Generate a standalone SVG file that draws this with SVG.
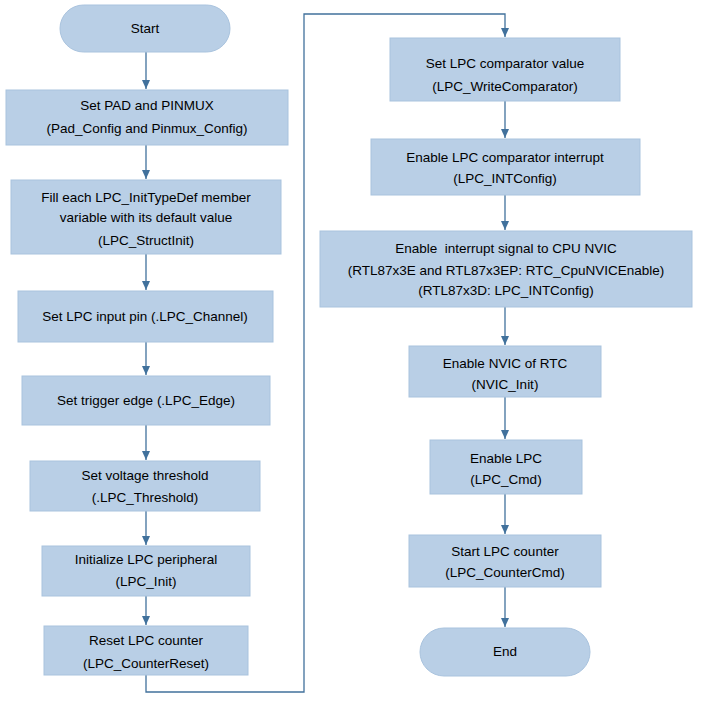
<svg xmlns="http://www.w3.org/2000/svg" width="705" height="709" viewBox="0 0 705 709">
<style>
.b{fill:#b9cfe6;stroke:#a9c3de;stroke-width:1}
text{font-family:"Liberation Sans",Arial,sans-serif;font-size:13.5px;fill:#000;text-anchor:middle}
.c{fill:none;stroke:#41719c;stroke-width:1.3}
</style>
<defs><marker id="a" markerWidth="10" markerHeight="10" refX="9" refY="5" orient="auto" markerUnits="userSpaceOnUse"><path d="M0,1 L9,5 L0,9 Z" fill="#41719c"/></marker></defs>
<rect width="705" height="709" fill="#fff"/>
<g id="connectors">
<path class="c" d="M146,52 V89" marker-end="url(#a)"/>
<path class="c" d="M146,145 V179" marker-end="url(#a)"/>
<path class="c" d="M146,254 V290" marker-end="url(#a)"/>
<path class="c" d="M146,342 V375" marker-end="url(#a)"/>
<path class="c" d="M146,425 V460" marker-end="url(#a)"/>
<path class="c" d="M146,511 V545" marker-end="url(#a)"/>
<path class="c" d="M146,596 V625" marker-end="url(#a)"/>
<path class="c" d="M146,675 V692 H304 V14 H505 V37" marker-end="url(#a)"/>
<path class="c" d="M505,101 V138" marker-end="url(#a)"/>
<path class="c" d="M505,195 V230" marker-end="url(#a)"/>
<path class="c" d="M505,307 V345" marker-end="url(#a)"/>
<path class="c" d="M505,397 V439" marker-end="url(#a)"/>
<path class="c" d="M505,494 V534" marker-end="url(#a)"/>
<path class="c" d="M505,587 V627" marker-end="url(#a)"/>
</g>
<g id="start"><rect class="b" x="60" y="5" width="170" height="47" rx="23.5"/><text x="145" y="33">Start</text></g>
<g id="n1"><rect class="b" x="6" y="90" width="282" height="55"/><text x="147" y="110">Set PAD and PINMUX</text><text x="147" y="133">(Pad_Config and Pinmux_Config)</text></g>
<g id="n2"><rect class="b" x="11" y="180" width="270" height="74"/><text x="146" y="202">Fill each LPC_InitTypeDef member</text><text x="146" y="222">variable with its default value</text><text x="146" y="245">(LPC_StructInit)</text></g>
<g id="n3"><rect class="b" x="18" y="291" width="255" height="51"/><text x="145" y="321">Set LPC input pin (.LPC_Channel)</text></g>
<g id="n4"><rect class="b" x="22" y="376" width="248" height="49"/><text x="146" y="405">Set trigger edge (.LPC_Edge)</text></g>
<g id="n5"><rect class="b" x="30" y="461" width="230" height="50"/><text x="145" y="480">Set voltage threshold</text><text x="145" y="502">(.LPC_Threshold)</text></g>
<g id="n6"><rect class="b" x="42" y="546" width="208" height="50"/><text x="146" y="564">Initialize LPC peripheral</text><text x="146" y="586">(LPC_Init)</text></g>
<g id="n7"><rect class="b" x="44" y="626" width="204" height="49"/><text x="146" y="645">Reset LPC counter</text><text x="146" y="668">(LPC_CounterReset)</text></g>
<g id="r1"><rect class="b" x="390" y="38" width="230" height="63"/><text x="505" y="68">Set LPC comparator value</text><text x="505" y="91">(LPC_WriteComparator)</text></g>
<g id="r2"><rect class="b" x="371" y="139" width="269" height="56"/><text x="505" y="162">Enable LPC comparator interrupt</text><text x="505" y="183">(LPC_INTConfig)</text></g>
<g id="r3"><rect class="b" x="320" y="231" width="372" height="76"/><text x="506" y="253" xml:space="preserve">Enable  interrupt signal to CPU NVIC</text><text x="506" y="275">(RTL87x3E and RTL87x3EP: RTC_CpuNVICEnable)</text><text x="506" y="295">(RTL87x3D: LPC_INTConfig)</text></g>
<g id="r4"><rect class="b" x="409" y="346" width="192" height="51"/><text x="505" y="368">Enable NVIC of RTC</text><text x="505" y="389">(NVIC_Init)</text></g>
<g id="r5"><rect class="b" x="430" y="440" width="152" height="54"/><text x="506" y="463">Enable LPC</text><text x="506" y="484">(LPC_Cmd)</text></g>
<g id="r6"><rect class="b" x="409" y="535" width="192" height="52"/><text x="505" y="556">Start LPC counter</text><text x="505" y="577">(LPC_CounterCmd)</text></g>
<g id="end"><rect class="b" x="420" y="628" width="170" height="48" rx="24"/><text x="505" y="656">End</text></g>
</svg>
